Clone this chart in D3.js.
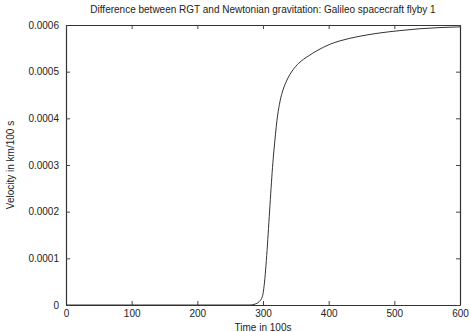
<!DOCTYPE html>
<html>
<head>
<meta charset="utf-8">
<script src="https://cdn.jsdelivr.net/npm/d3@7"></script>
<style>
    body { margin: 0; background: #fff; }
    svg text { font-family: "Liberation Sans", Arial, sans-serif; fill: #222; }
</style>
</head>
<body>
<div id="chart"></div>
<script>
(function() {
    'use strict';

    // Data
    var times = [0, 280, 288, 294, 299, 316.7, 321.3, 326.3, 330.5, 336.5, 345.7, 354.4, 369.6,
        382.2, 402.5, 417.2, 447.7, 478.2, 508.6, 539.1, 600];
    var velocity = [0, 0, 0.000002, 0.000007, 0.000018, 0.000332, 0.000396, 0.000439, 0.000461,
        0.000482, 0.000504, 0.000518, 0.000534, 0.000545, 0.000559, 0.000566, 0.000576, 0.000583,
        0.000588, 0.000592, 0.000596];
    var xTicks = [0, 100, 200, 300, 400, 500, 600];
    var yTicks = [0, 0.0001, 0.0002, 0.0003, 0.0004, 0.0005, 0.0006];
    var yTickLabels = ["0", "0.0001", "0.0002", "0.0003", "0.0004", "0.0005", "0.0006"];

    var width = 470, height = 332;
    var margin = { left: 66, right: 10, top: 25, bottom: 27 };

    var svg = d3.select("#chart").append("svg")
        .attr("width", width)
        .attr("height", height);

    var xScale = d3.scaleLinear().domain([0, 600]).range([margin.left, width - margin.right]);
    var yScale = d3.scaleLinear().domain([0, 0.0006]).range([height - margin.bottom, margin.top]);

    // Axes (ticks pointing inward, mirrored on top/right)
    var xAxis = d3.axisBottom(xScale).tickValues(xTicks).tickSizeInner(-4).tickSizeOuter(0).tickPadding(5);
    var yAxis = d3.axisLeft(yScale).tickValues(yTicks).tickSizeInner(-4).tickSizeOuter(0).tickPadding(7)
        .tickFormat(function(d, i) { return yTickLabels[i]; });
    var xTop = d3.axisTop(xScale).tickValues(xTicks).tickSizeInner(-4).tickSizeOuter(0).tickFormat("");
    var yRight = d3.axisRight(yScale).tickValues(yTicks).tickSizeInner(-4).tickSizeOuter(0).tickFormat("");

    svg.append("g").attr("transform", "translate(0," + yScale(0) + ")").call(xAxis);
    svg.append("g").attr("transform", "translate(" + xScale(0) + ",0)").call(yAxis);
    svg.append("g").attr("transform", "translate(0," + yScale(0.0006) + ")").call(xTop);
    svg.append("g").attr("transform", "translate(" + xScale(600) + ",0)").call(yRight);

    svg.selectAll(".domain").attr("stroke", "#333").attr("stroke-width", 1.2);
    svg.selectAll(".tick line").attr("stroke", "#444");
    svg.selectAll(".tick text").style("font-size", "10px").attr("fill", "#222");

    // Curve
    var line = d3.line()
        .x(function(d, i) { return xScale(times[i]); })
        .y(function(d) { return yScale(d); })
        .curve(d3.curveMonotoneX);

    svg.append("path")
        .datum(velocity)
        .attr("fill", "none")
        .attr("stroke", "#333")
        .attr("stroke-width", 1)
        .attr("d", line);

    // Labels
    svg.append("text")
        .attr("x", (xScale(0) + xScale(600)) / 2)
        .attr("y", 13)
        .attr("text-anchor", "middle")
        .style("font-size", "10px")
        .text("Difference between RGT and Newtonian gravitation: Galileo spacecraft flyby 1");

    svg.append("text")
        .attr("x", (xScale(0) + xScale(600)) / 2)
        .attr("y", 331)
        .attr("text-anchor", "middle")
        .style("font-size", "10px")
        .text("Time in 100s");

    svg.append("text")
        .attr("transform", "translate(14," + (yScale(0) + yScale(0.0006)) / 2 + ") rotate(-90)")
        .attr("text-anchor", "middle")
        .style("font-size", "10px")
        .text("Velocity in km/100 s");
})();
</script>
</body>
</html>
